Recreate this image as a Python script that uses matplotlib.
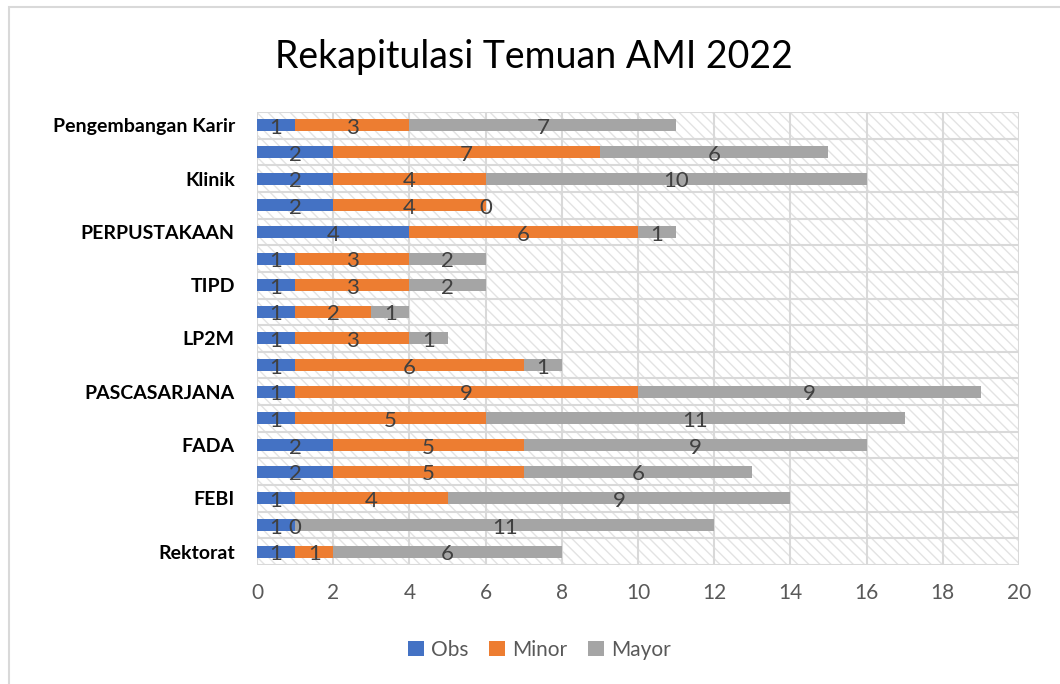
import numpy as np
import matplotlib.pyplot as plt
import matplotlib.patches as patches

plt.rcParams['font.family'] = ['Lato', 'DejaVu Sans']
plt.rcParams['hatch.linewidth'] = 1.0
plt.rcParams['hatch.color'] = '#e3e3e3'

# === data (bottom to top, as in the chart) ===
categories = ['Rektorat', '', 'FEBI', '', 'FADA', '', 'PASCASARJANA', '',
              'LP2M', '', 'TIPD', '', 'PERPUSTAKAAN', '', 'Klinik', '',
              'Pengembangan Karir']
obs = [1, 1, 1, 2, 2, 1, 1, 1, 1, 1, 1, 1, 4, 2, 2, 2, 1]
minor = [1, 0, 4, 5, 5, 5, 9, 6, 3, 2, 3, 3, 6, 4, 4, 7, 3]
mayor = [6, 11, 9, 6, 9, 11, 9, 1, 1, 1, 2, 2, 1, 0, 10, 6, 7]
series_names = ['Obs', 'Minor', 'Mayor']
colors = ['#4472C4', '#ED7D31', '#A5A5A5']

fig = plt.figure(figsize=(10.6, 6.84), dpi=100)
ax = fig.add_axes([0.2425, 0.174, 0.7188, 0.6623])

# outer chart frame
fig.patches.append(patches.Rectangle((9 / 1060, -0.1), 1.2, 1 - 7 / 684 + 0.1,
                                     transform=fig.transFigure, fill=False,
                                     edgecolor='#d9d9d9', linewidth=1.5))

# hatched plot area
ax.add_patch(patches.Rectangle((0, 0), 1, 1, transform=ax.transAxes,
                               facecolor='white', hatch='\\\\\\',
                               edgecolor='#e3e3e3', linewidth=0, zorder=0))

y = np.arange(len(categories))
left = np.zeros(len(categories))
for name, vals, c in zip(series_names, [obs, minor, mayor], colors):
    vals = np.array(vals)
    ax.barh(y, vals, left=left, height=0.45, color=c, label=name, zorder=3)
    for yi, l, v in zip(y, left, vals):
        ax.text(l + v / 2, yi - 0.1, str(v), ha='center', va='center',
                fontsize=16, color='#404040', zorder=4)
    left = left + vals

ax.set_xlim(0, 20)
ax.set_ylim(-0.5, len(categories) - 0.5)
ax.set_xticks(np.arange(0, 21, 2))
ax.set_yticks(y)
ax.set_yticklabels(categories, fontsize=14, fontweight='bold', color='black')
ax.tick_params(axis='x', labelsize=15, labelcolor='#595959', length=0, pad=13)
ax.tick_params(axis='y', length=0, pad=16)

# grid
for xv in np.arange(0, 21, 2):
    ax.axvline(xv, color='#d9d9d9', linewidth=1.5, zorder=1)
for yv in np.arange(-0.5, len(categories), 1):
    ax.axhline(yv, color='#d9d9d9', linewidth=1.5, zorder=1)
for s in ax.spines.values():
    s.set_visible(False)

fig.text(0.504, 0.917, 'Rekapitulasi Temuan AMI 2022', ha='center', va='center',
         fontsize=27, color='black')

fig.legend(loc='center', bbox_to_anchor=(0.509, 0.05), ncol=3, frameon=False,
           fontsize=15, labelcolor='#595959', handlelength=0.75, handleheight=0.75,
           handletextpad=0.35, columnspacing=1.0)

plt.savefig('out.png', dpi=100)
plt.close()
